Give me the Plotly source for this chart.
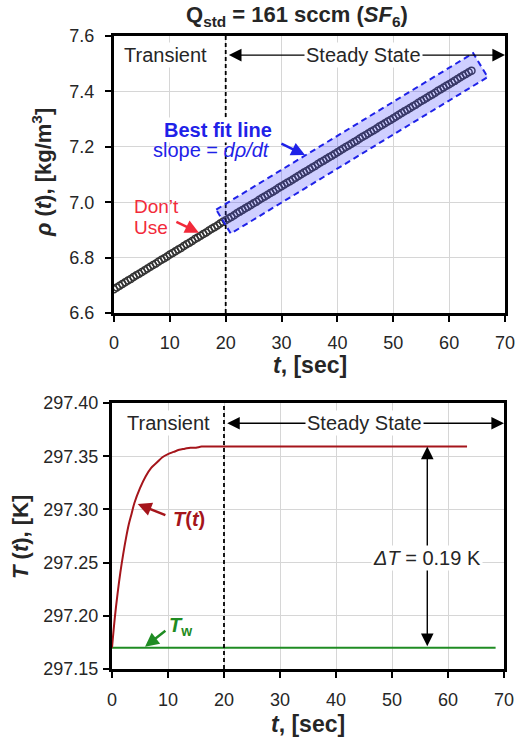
import numpy as np
import plotly.graph_objects as go

# ---------------- data ----------------
t_rho = [0, 0.5, 1, 1.5, 2, 2.5, 3, 3.5, 4, 4.5, 5, 5.5, 6, 6.5, 7, 7.5, 8, 8.5, 9, 9.5,
         10, 10.5, 11, 11.5, 12, 12.5, 13, 13.5, 14, 14.5, 15, 15.5, 16, 16.5, 17, 17.5, 18, 18.5, 19, 19.5,
         20, 20.5, 21, 21.5, 22, 22.5, 23, 23.5, 24, 24.5, 25, 25.5, 26, 26.5, 27, 27.5, 28, 28.5, 29, 29.5,
         30, 30.5, 31, 31.5, 32, 32.5, 33, 33.5, 34, 34.5, 35, 35.5, 36, 36.5, 37, 37.5, 38, 38.5, 39, 39.5,
         40, 40.5, 41, 41.5, 42, 42.5, 43, 43.5, 44, 44.5, 45, 45.5, 46, 46.5, 47, 47.5, 48, 48.5, 49, 49.5,
         50, 50.5, 51, 51.5, 52, 52.5, 53, 53.5, 54, 54.5, 55, 55.5, 56, 56.5, 57, 57.5, 58, 58.5, 59, 59.5,
         60, 60.5, 61, 61.5, 62, 62.5, 63, 63.5, 64]
rho = [6.686, 6.692, 6.698, 6.705, 6.711, 6.717, 6.723, 6.730, 6.736, 6.742,
       6.748, 6.754, 6.761, 6.767, 6.773, 6.779, 6.786, 6.792, 6.798, 6.804,
       6.811, 6.817, 6.823, 6.829, 6.835, 6.842, 6.848, 6.854, 6.860, 6.867,
       6.873, 6.879, 6.885, 6.891, 6.898, 6.904, 6.910, 6.916, 6.923, 6.929,
       6.935, 6.941, 6.947, 6.953, 6.960, 6.966, 6.972, 6.978, 6.984, 6.990,
       6.996, 7.002, 7.009, 7.015, 7.021, 7.027, 7.033, 7.039, 7.045, 7.052,
       7.058, 7.064, 7.070, 7.076, 7.082, 7.088, 7.095, 7.101, 7.107, 7.113,
       7.119, 7.125, 7.131, 7.138, 7.144, 7.150, 7.156, 7.162, 7.168, 7.174,
       7.180, 7.187, 7.193, 7.199, 7.205, 7.211, 7.217, 7.223, 7.230, 7.236,
       7.242, 7.248, 7.254, 7.260, 7.266, 7.273, 7.279, 7.285, 7.291, 7.297,
       7.303, 7.309, 7.316, 7.322, 7.328, 7.334, 7.340, 7.346, 7.352, 7.359,
       7.365, 7.371, 7.377, 7.383, 7.389, 7.395, 7.402, 7.408, 7.414, 7.420,
       7.426, 7.432, 7.438, 7.445, 7.451, 7.457, 7.463, 7.469, 7.475]

t_T = [0, 0.5, 1, 1.5, 2, 2.5, 3, 3.5, 4, 5, 6, 7, 8, 9, 10, 11, 12, 13, 14, 15, 16,
       18, 20, 25, 30, 35, 40, 45, 50, 55, 60, 63.4]
T_gas = [297.170, 297.198, 297.221, 297.241, 297.258, 297.273, 297.286, 297.296, 297.306,
         297.320, 297.331, 297.339, 297.344, 297.349, 297.352, 297.354, 297.356, 297.357,
         297.358, 297.358, 297.359, 297.359, 297.359, 297.359, 297.359, 297.359, 297.359,
         297.359, 297.359, 297.359, 297.359, 297.359]
t_w = [0, 68.5]
T_wall = [297.17, 297.17]

x_ticks = [0, 10, 20, 30, 40, 50, 60, 70]
t_switch = 20

# ---------------- figure geometry (window pixels; body margin removed) ----------------
W, H = 526, 738
top_px = dict(l=114, r=505, t=36, b=313)
bot_px = dict(l=112, r=504, t=403, b=669)

FONT = "Liberation Sans"
BLUE = "#1f22e8"
RED_TXT = "#f22a3a"
DARKRED = "#a5151b"
GREEN = "#1f8c23"


def px(x):
    return x / W


def py(y):
    return 1 - y / H


fig = go.Figure()

fig.add_trace(go.Scatter(
    x=t_rho, y=rho, mode="markers", xaxis="x", yaxis="y",
    marker=dict(symbol="circle-open", size=7, color="#333333", line=dict(width=1.5)),
    showlegend=False, hoverinfo="skip"))

fig.add_trace(go.Scatter(
    x=t_w, y=T_wall, mode="lines", xaxis="x2", yaxis="y2",
    line=dict(color=GREEN, width=2), showlegend=False))
fig.add_trace(go.Scatter(
    x=t_T, y=T_gas, mode="lines", xaxis="x2", yaxis="y2", line_shape="spline",
    line=dict(color=DARKRED, width=2), showlegend=False))

axis_common = dict(
    showline=True, linewidth=3, linecolor="black", mirror=True, automargin=False,
    ticks="outside", ticklen=6, tickwidth=2, tickcolor="black",
    showgrid=True, gridcolor="#d6d6d6", gridwidth=1, zeroline=False,
    tickfont=dict(family=FONT, size=18, color="#262626"),
)

fig.update_layout(
    template="none",
    width=W, height=H, margin=dict(l=0, r=0, t=0, b=0, pad=0), autosize=False,
    paper_bgcolor="white", plot_bgcolor="white", showlegend=False,
    xaxis=dict(axis_common, domain=[px(top_px["l"]), px(top_px["r"])], range=[0, 70],
               tickvals=x_ticks, anchor="y", ticklabelstandoff=5),
    yaxis=dict(axis_common, domain=[py(top_px["b"]), py(top_px["t"])], range=[6.6, 7.6],
               dtick=0.2, tickformat=".1f", anchor="x", ticklabelstandoff=7),
    xaxis2=dict(axis_common, domain=[px(bot_px["l"]), px(bot_px["r"])], range=[0, 70],
                tickvals=x_ticks, anchor="y2", ticklabelstandoff=6),
    yaxis2=dict(axis_common, domain=[py(bot_px["b"]), py(bot_px["t"])], range=[297.15, 297.40],
                dtick=0.05, tickformat=".2f", anchor="x2", ticklabelstandoff=1),
)

# dashed separators
fig.add_shape(type="line", xref="x", yref="y", x0=t_switch, x1=t_switch, y0=6.6, y1=7.6,
              line=dict(color="black", width=1.8, dash="4px,3px"))
fig.add_shape(type="line", xref="x2", yref="y2", x0=t_switch, x1=t_switch, y0=297.15, y1=297.40,
              line=dict(color="black", width=1.8, dash="4px,3px"))

# best-fit box (rotated rectangle around steady-state fit)
t_arr = np.array(t_rho)
r_arr = np.array(rho)
mask = t_arr >= t_switch
slope, icpt = np.polyfit(t_arr[mask], r_arr[mask], 1)
ppx_t = (top_px["r"] - top_px["l"]) / 70.0
ppx_r = (top_px["b"] - top_px["t"]) / 1.0
dxp, dyp = ppx_t, slope * ppx_r
n = np.hypot(dxp, dyp)
perp = (dyp / n, dxp / n)  # pixel direction (right, down)
h = 14.0
dt_ = h * perp[0] / ppx_t
dr_ = h * perp[1] / ppx_r
ta, tb = 19.6, 65.6
ra, rb = icpt + slope * ta, icpt + slope * tb
corners = [(ta - dt_, ra + dr_), (tb - dt_, rb + dr_), (tb + dt_, rb - dr_), (ta + dt_, ra - dr_)]
path = "M " + " L ".join(f"{c[0]},{c[1]}" for c in corners) + " Z"
fig.add_shape(type="path", xref="x", yref="y", path=path, layer="above",
              fillcolor="rgba(70,70,255,0.26)", line=dict(color=BLUE, width=2, dash="6px,4px"))

ann = []


def text(x, y, s, xref, yref, size=20, color="#262626", bg="white", xanchor="center", **kw):
    ann.append(dict(x=x, y=y, xref=xref, yref=yref, text=s, showarrow=False,
                    font=dict(family=FONT, size=size, color=color), bgcolor=bg,
                    xanchor=xanchor, yanchor="middle", borderpad=1, **kw))


def arrow(x, y, ax, ay, xref, yref, color, width=1.5, size=1.2, head=2, side="end"):
    ann.append(dict(x=x, y=y, ax=ax, ay=ay, xref=xref, yref=yref, axref=xref, ayref=yref,
                    text="", showarrow=True, arrowhead=head, startarrowhead=head, arrowsize=size,
                    startarrowsize=size, arrowwidth=width, arrowcolor=color, arrowside=side))


# ---- top panel annotations
arrow(70, 7.531, 20.3, 7.531, "x", "y", "black", width=1.4, size=1.8, side="end+start")
text(9.3, 7.531, "Transient", "x", "y")
text(44.6, 7.531, "Steady State", "x", "y")
text(18.6, 7.262, "<b>Best fit line</b>", "x", "y", color=BLUE)
text(17.5, 7.190, "slope = <i>dρ/dt</i>", "x", "y", color=BLUE, bg="rgba(0,0,0,0)")
arrow(34.2, 7.170, 29.7, 7.214, "x", "y", BLUE, width=2.5, size=1.1)
text(3.3, 6.986, "Don’t", "x", "y", size=19, color=RED_TXT, xanchor="left", bg="rgba(0,0,0,0)")
text(3.3, 6.910, "Use", "x", "y", size=19, color=RED_TXT, xanchor="left", bg="rgba(0,0,0,0)")
arrow(15.2, 6.890, 10.9, 6.932, "x", "y", RED_TXT, width=2.5, size=1.1)

# ---- bottom panel annotations
arrow(70, 297.381, 20.3, 297.381, "x2", "y2", "black", width=1.4, size=1.8, side="end+start")
text(10.0, 297.381, "Transient", "x2", "y2")
text(45.0, 297.381, "Steady State", "x2", "y2")
arrow(56.3, 297.359, 56.3, 297.17, "x2", "y2", "black", width=1.4, size=1.8, side="end+start")
text(56.25, 297.254, "<i>ΔT</i> = 0.19 K", "x2", "y2")
text(13.8, 297.291, "<b><i>T</i>(<i>t</i>)</b>", "x2", "y2", color=DARKRED, bg="rgba(0,0,0,0)")
arrow(4.6, 297.305, 9.8, 297.294, "x2", "y2", DARKRED, width=2.5, size=1.1)
text(12.3, 297.190, "<b><i>T</i><sub>w</sub></b>", "x2", "y2", color=GREEN, bg="rgba(0,0,0,0)")
arrow(5.9, 297.171, 9.8, 297.187, "x2", "y2", GREEN, width=2.5, size=1.1)


# ---- titles
def ptext(x, y, s, size=22, angle=0):
    ann.append(dict(x=px(x), y=py(y), xref="paper", yref="paper", text=s, showarrow=False,
                    textangle=angle, font=dict(family=FONT, size=size, color="#262626"),
                    xanchor="center", yanchor="middle"))


ptext(297, 16, "<b>Q<sub>std</sub> = 161 sccm (<i>SF</i><sub>6</sub>)</b>", size=22)
ptext(310, 365, "<b><i>t</i>, [sec]</b>", size=23)
ptext(308, 724, "<b><i>t</i>, [sec]</b>", size=23)
ptext(42, 173, "<b><i>ρ</i> (<i>t</i>), [kg/m<sup>3</sup>]</b>", size=22, angle=-90)
ptext(20, 537, "<b><i>T</i> (<i>t</i>), [K]</b>", size=22, angle=-90)

fig.update_layout(annotations=ann)
fig.write_html("out.html", config={"displayModeBar": False},
               post_script="document.body.style.margin='0';document.body.style.overflow='hidden';")
